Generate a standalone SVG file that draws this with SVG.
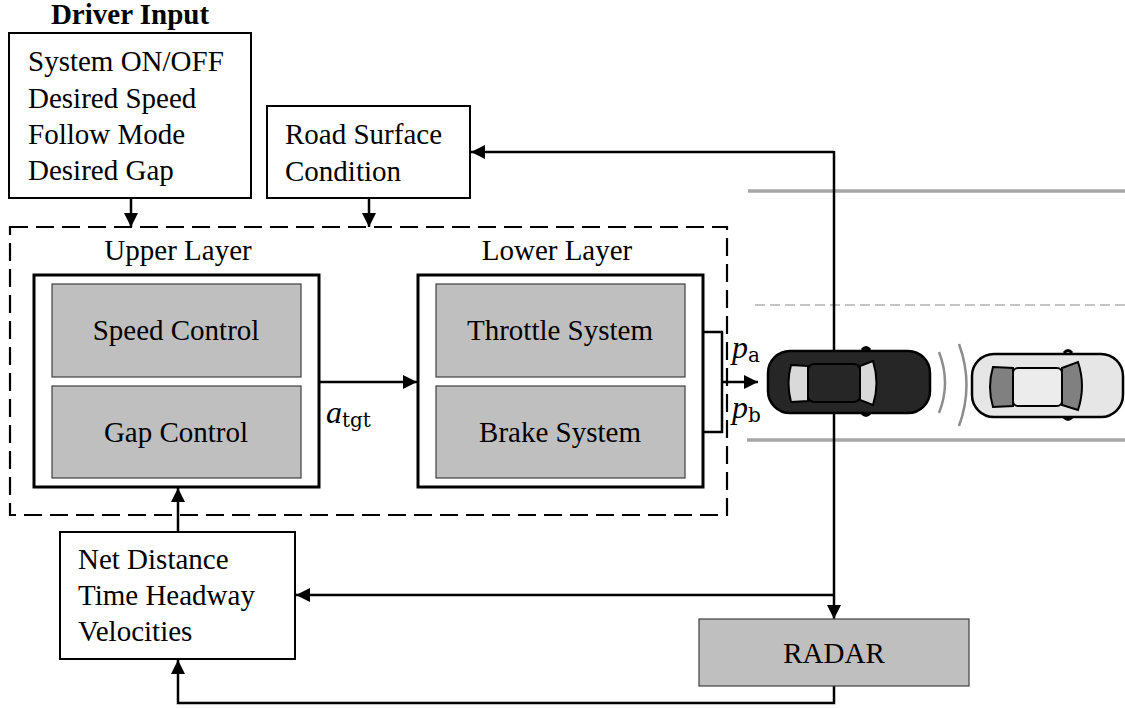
<svg xmlns="http://www.w3.org/2000/svg" width="1125" height="708" viewBox="0 0 1125 708">
  <style>
    .t { font-family: "Liberation Serif", "Times New Roman", serif; font-size: 29px; fill: #000; }
    .c { text-anchor: middle; }
    .box { fill: #fff; stroke: #000; stroke-width: 2; }
    .layer { fill: #fff; stroke: #000; stroke-width: 3; }
    .blk { fill: #bfbfbf; stroke: #404040; stroke-width: 1.2; }
    .wire { fill: none; stroke: #000; stroke-width: 2.5; }
    .arr { fill: none; stroke: #000; stroke-width: 2.5; marker-end: url(#ah); }
    .math { font-family: "Liberation Serif", "Times New Roman", serif; font-style: italic; font-size: 32px; }
    .sub { font-family: "DejaVu Serif", "Liberation Serif", serif; font-style: normal; font-size: 20px; }
    .road { stroke: #a6a6a6; stroke-width: 3.5; }
    .lane { stroke: #c4c4c4; stroke-width: 2; stroke-dasharray: 10 5; }
    .wave { fill: none; stroke: #8c8c8c; stroke-width: 2.5; }
  </style>
  <defs>
    <marker id="ah" markerUnits="userSpaceOnUse" markerWidth="15" markerHeight="14" refX="14" refY="7" orient="auto">
      <path d="M0,0 L14,7 L0,14 z" fill="#000"/>
    </marker>
  </defs>

  <rect width="1125" height="708" fill="#fff"/>

  <!-- road markings -->
  <g id="road">
    <line class="road" x1="748" y1="191" x2="1125" y2="191"/>
    <line class="lane" x1="755" y1="305" x2="1125" y2="305"/>
    <line class="road" x1="747" y1="440" x2="1125" y2="440"/>
  </g>

  <!-- signal connectors -->
  <g id="connectors">
    <!-- driver input / road surface into the controller -->
    <line class="arr" x1="131" y1="198" x2="131" y2="227"/>
    <line class="arr" x1="369" y1="198" x2="369" y2="227"/>
    <!-- target acceleration -->
    <line class="arr" x1="319" y1="382" x2="417" y2="382"/>
    <!-- actuator outputs to vehicle -->
    <polyline class="wire" points="685,332 722,332 722,432 685,432"/>
    <line class="arr" x1="722" y1="382" x2="758" y2="382"/>
    <!-- sensing loop -->
    <line class="arr" x1="834" y1="152" x2="471" y2="152"/>
    <line class="arr" x1="834" y1="151" x2="834" y2="619"/>
    <line class="arr" x1="834" y1="595" x2="296" y2="595"/>
    <polyline class="arr" points="834,686 834,703 178,703 178,660"/>
    <line class="arr" x1="178" y1="532" x2="178" y2="488"/>
  </g>

  <!-- driver input -->
  <g id="driver-input">
    <text class="t c" x="130" y="24" font-weight="bold" font-size="27">Driver Input</text>
    <rect class="box" x="9" y="33" width="242" height="165"/>
    <text class="t" x="28" y="71">System ON/OFF</text>
    <text class="t" x="28" y="108">Desired Speed</text>
    <text class="t" x="28" y="144">Follow Mode</text>
    <text class="t" x="28" y="180">Desired Gap</text>
  </g>

  <!-- road surface -->
  <g id="road-surface">
    <rect class="box" x="267" y="106" width="203" height="92"/>
    <text class="t" x="285" y="144">Road Surface</text>
    <text class="t" x="285" y="181">Condition</text>
  </g>

  <!-- controller boundary -->
  <g id="controller">
    <rect x="10" y="227" width="717" height="288" fill="none" stroke="#000" stroke-width="2.2" stroke-dasharray="18 8"/>
  </g>

  <!-- upper layer -->
  <g id="upper-layer">
    <text class="t c" x="178" y="260">Upper Layer</text>
    <rect class="layer" x="34" y="275" width="285" height="212"/>
    <rect class="blk" x="52" y="284" width="249" height="93"/>
    <text class="t c" x="176" y="340">Speed Control</text>
    <rect class="blk" x="52" y="386" width="249" height="92"/>
    <text class="t c" x="176" y="442">Gap Control</text>
  </g>

  <!-- lower layer -->
  <g id="lower-layer">
    <text class="t c" x="557" y="260">Lower Layer</text>
    <rect class="layer" x="418" y="275" width="285" height="212"/>
    <rect class="blk" x="436" y="284" width="249" height="93"/>
    <text class="t c" x="560" y="340">Throttle System</text>
    <rect class="blk" x="436" y="386" width="249" height="92"/>
    <text class="t c" x="560" y="442">Brake System</text>
  </g>

  <!-- signal labels -->
  <g id="labels">
    <text class="math" x="326" y="423">a<tspan class="sub" dy="4">tgt</tspan></text>
    <text class="math" x="732" y="358">p<tspan class="sub" dy="4">a</tspan></text>
    <text class="math" x="732" y="418">p<tspan class="sub" dy="4">b</tspan></text>
  </g>

  <!-- ego vehicle -->
  <g id="ego-car">
    <path d="M862,350 q4,-5 8,0 M862,413 q4,5 8,0" fill="#262626" stroke="#000" stroke-width="3"/>
    <rect x="768" y="351" width="162" height="62" rx="22" fill="#262626" stroke="#000" stroke-width="2.5"/>
    <path d="M791,365 L808,366 L808,401 L791,402 Q786,383 791,365 z" fill="#d9d9d9" stroke="#000" stroke-width="2"/>
    <rect x="808" y="364" width="52" height="38" rx="6" fill="#262626" stroke="#000" stroke-width="2"/>
    <path d="M860,366 L873,361 Q880,383 873,405 L860,400 z" fill="#d9d9d9" stroke="#000" stroke-width="2"/>
  </g>

  <!-- sensing waves -->
  <g id="waves">
    <path class="wave" d="M939,352 Q951,383 939,413"/>
    <path class="wave" d="M959,344 Q974,385 959,426"/>
  </g>

  <!-- leading vehicle -->
  <g id="lead-car">
    <path d="M1064,353 q4,-5 8,0 M1064,417 q4,5 8,0" fill="#e6e6e6" stroke="#000" stroke-width="3"/>
    <rect x="972" y="354" width="151" height="63" rx="22" fill="#e6e6e6" stroke="#000" stroke-width="2.5"/>
    <path d="M993,367 L1013,368 L1013,406 L993,407 Q987,387 993,367 z" fill="#808080" stroke="#000" stroke-width="2"/>
    <rect x="1013" y="368" width="49" height="38" rx="5" fill="#ececec" stroke="#000" stroke-width="2"/>
    <path d="M1062,368 L1078,362 Q1086,386 1078,410 L1062,405 z" fill="#808080" stroke="#000" stroke-width="2"/>
  </g>

  <!-- radar -->
  <g id="radar">
    <rect class="blk" x="699" y="619" width="270" height="67" stroke="#333"/>
    <text class="t c" x="834" y="663">RADAR</text>
  </g>

  <!-- measured quantities -->
  <g id="measurements">
    <rect class="box" x="60" y="532" width="235" height="127"/>
    <text class="t" x="78" y="569">Net Distance</text>
    <text class="t" x="78" y="605">Time Headway</text>
    <text class="t" x="78" y="641">Velocities</text>
  </g>
</svg>
